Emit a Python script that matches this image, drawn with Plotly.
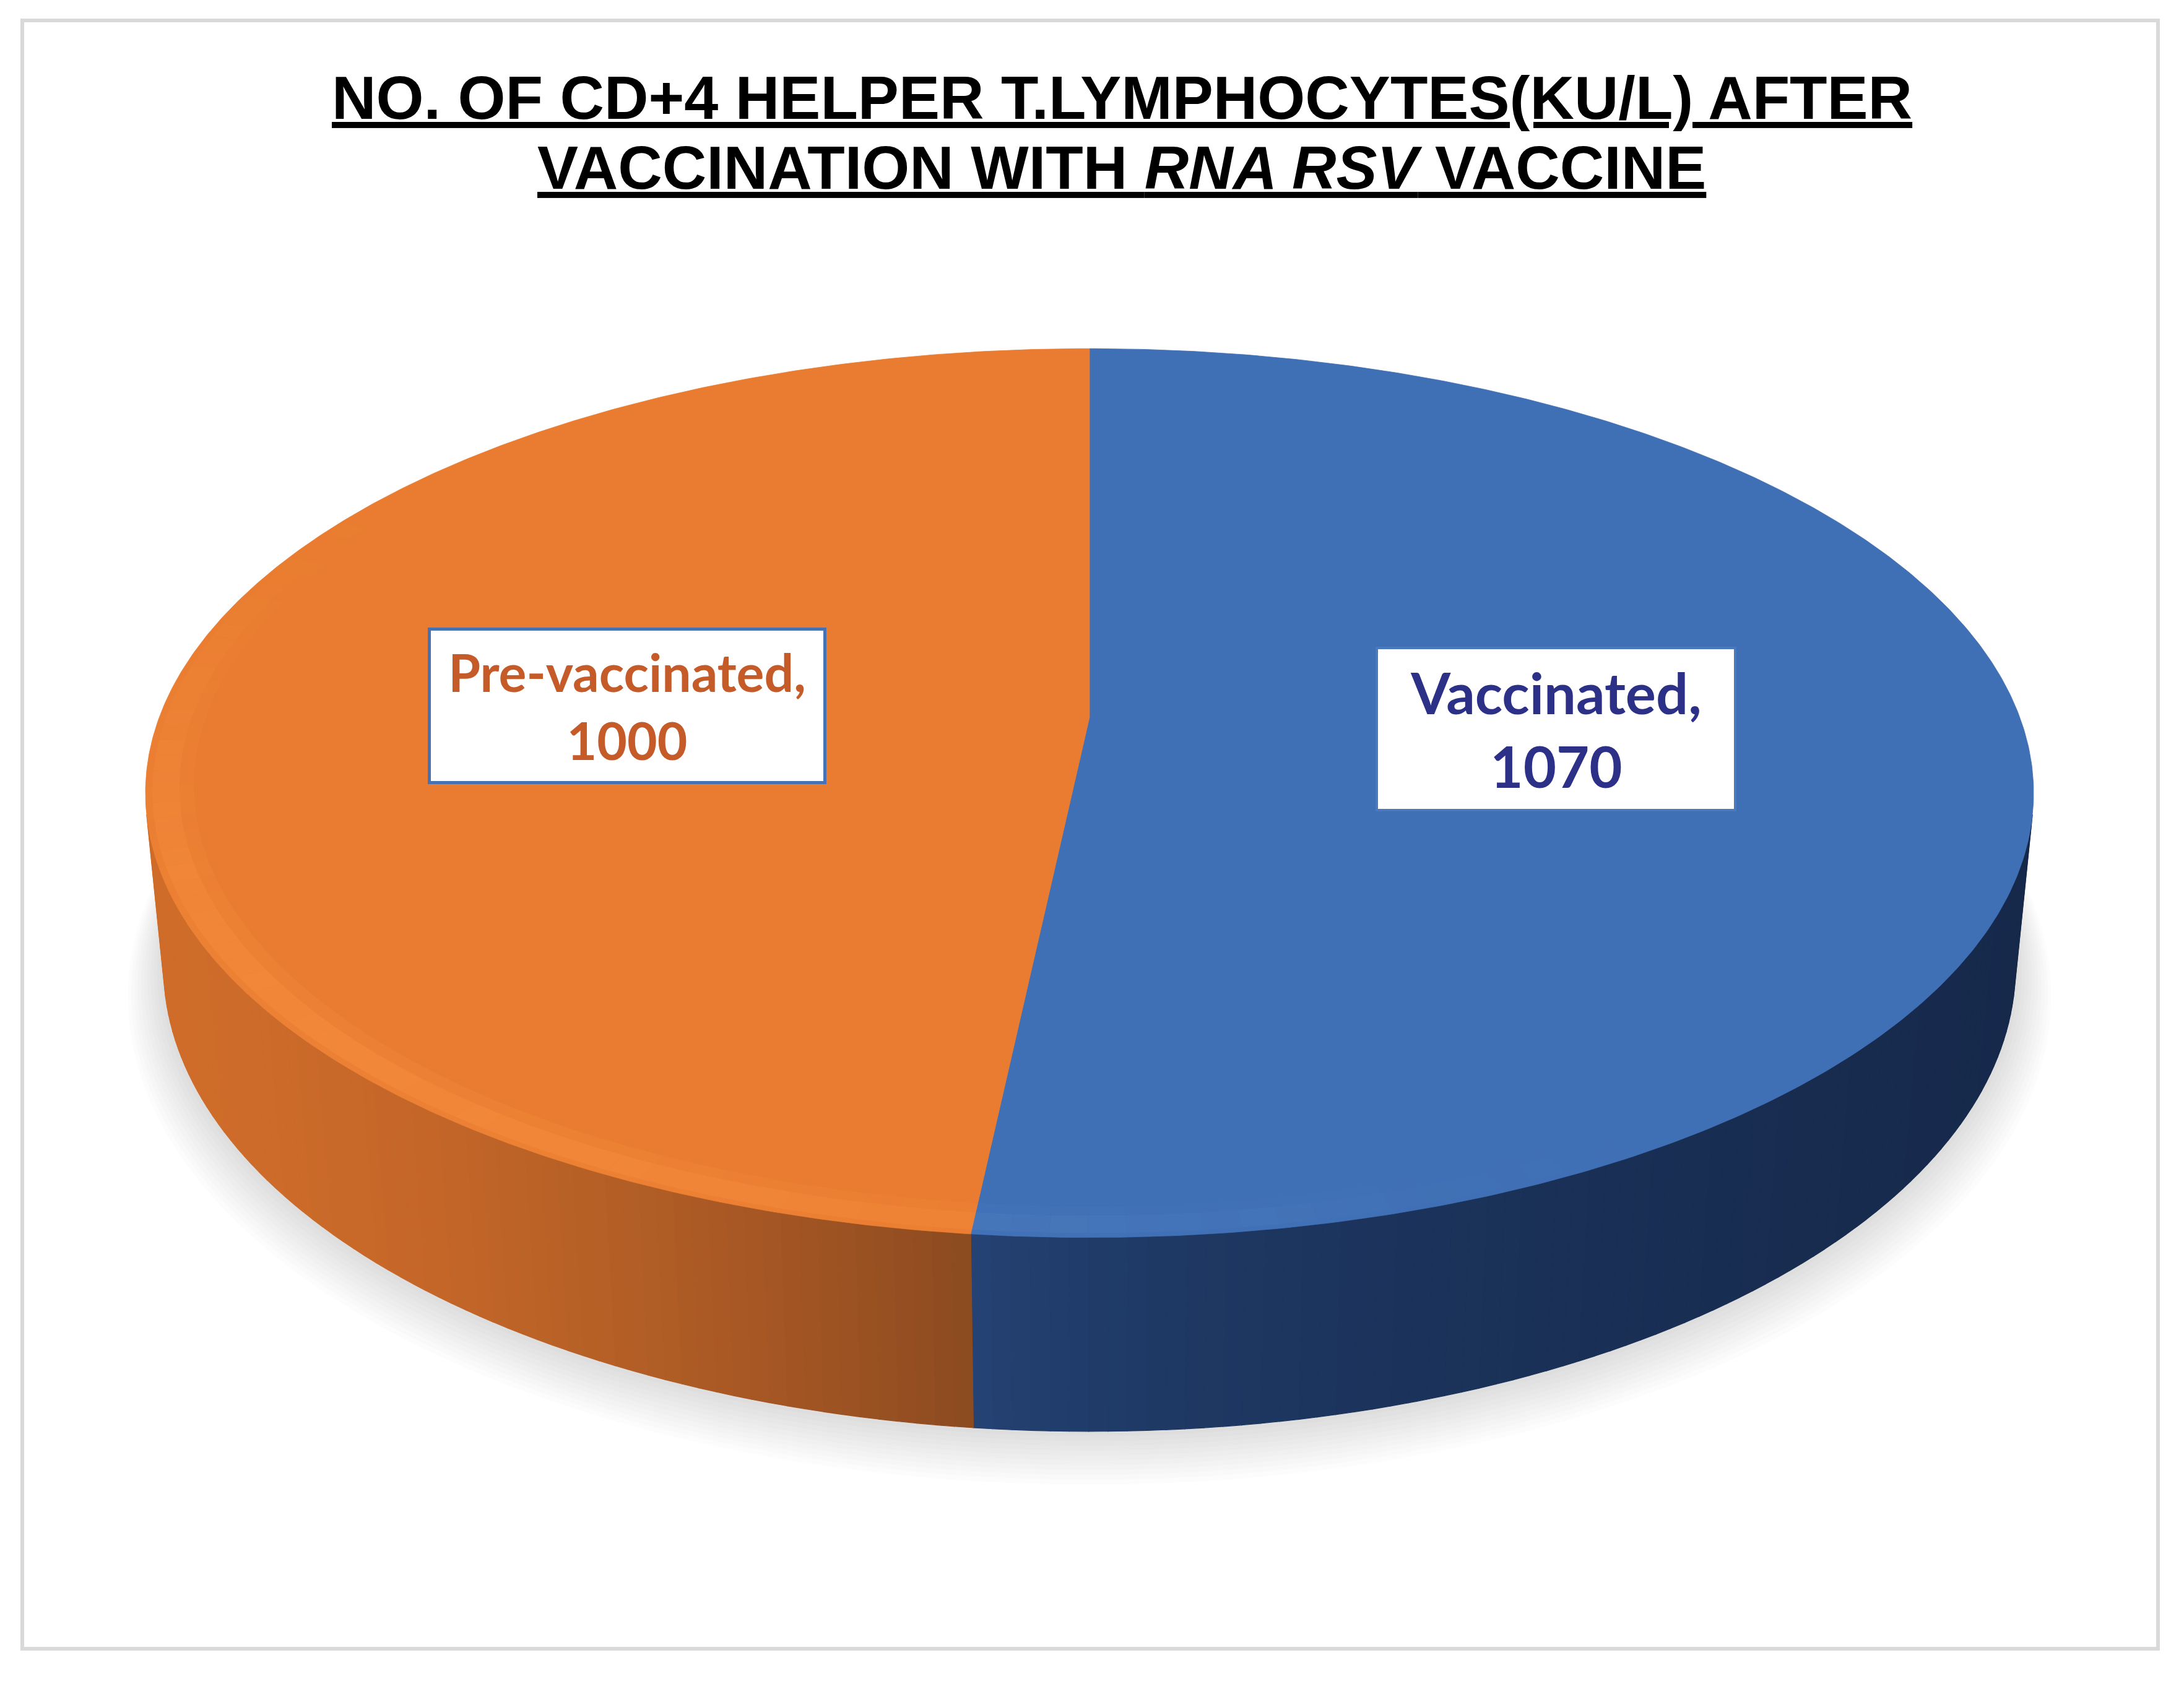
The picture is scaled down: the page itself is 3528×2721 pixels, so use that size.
import numpy as np
import plotly.graph_objects as go

# ---- data ----
categories = ["Vaccinated", "Pre-vaccinated"]
values = [1070, 1000]
top_colors = ["#3F6FB5", "#E97C30"]
side_light = [(37, 69, 120), (207, 108, 42)]
side_dark = [(22, 41, 75), (140, 74, 32)]
side_curve = [0.5, 1.6]
rim_tint = [(105, 150, 212), (255, 152, 72)]
rim_strength = [0.4, 0.55]
label_colors = ["#2C3087", "#C55B28"]
label_border = ["#4A79BD", "#4672B4"]
label_sizes = [92, 84]
label_box = [(583, 266), (644, 253)]
title_lines = [
    "<b><u>NO. OF CD+4 HELPER T.LYMPHOCYTES(KU/L) AFTER</u></b>",
    "<b><u>VACCINATION WITH <i>RNA RSV</i> VACCINE</u></b>",
]

W, H = 3528, 2721

# ---- perspective camera for the tilted disc ----
CX, CY = 1760.0, 1159.0
FOCAL = 7808.0
DIST = 5.196
TILT = np.arcsin(0.464)
THICK = 0.2116
S, C = np.sin(TILT), np.cos(TILT)


def project(x, y, z):
    x = np.asarray(x, float)
    y = np.asarray(y, float)
    z = np.asarray(z, float)
    yc = y * S + z * C
    zc = DIST + y * C - z * S
    return CX + FOCAL * x / zc, CY - FOCAL * yc / zc


def ring(t, r, z):
    return project(r * np.sin(t), r * np.cos(t), np.full_like(t, z))


def rgb(c):
    return "rgb(%d,%d,%d)" % tuple(int(round(v)) for v in c)


def poly(fig, xs, ys, fill, line=None, lw=0):
    fig.add_trace(go.Scatter(
        x=xs, y=ys, mode="lines", fill="toself", fillcolor=fill,
        line=dict(color=line or fill, width=lw), hoverinfo="skip",
        showlegend=False))


fig = go.Figure()

total = float(sum(values))
edges = np.concatenate([[0.0], np.cumsum(values) / total]) * 2 * np.pi

# soft ground shadow below the disc
n_sh = 12
for k in range(n_sh):
    f = k / (n_sh - 1)
    t = np.linspace(0, 2 * np.pi, 361)
    sx, sy = ring(t, 1.0 + 0.04 * f, -THICK - 0.03 * f)
    poly(fig, sx, sy, "rgba(110,115,120,0.022)")

# outer wall: only the part turned toward the camera
lim = np.arccos(-1.0 / (DIST * C))
vis_lo, vis_hi = lim, 2 * np.pi - lim
for i in range(len(values)):
    a, b = max(edges[i], vis_lo), min(edges[i + 1], vis_hi)
    if b <= a:
        continue
    n = max(int(np.degrees(b - a)), 2)
    tt = np.linspace(a, b, n + 1)
    us, _ = ring(tt, 1.0, 0.0)
    umin, umax = us.min(), us.max()
    for j in range(n):
        seg = np.linspace(tt[j], tt[j + 1], 4)
        tx, ty = ring(seg, 1.0, 0.0)
        bx, by = ring(seg[::-1], 1.0, -THICK)
        um = 0.5 * (us[j] + us[j + 1])
        f = ((um - umin) / (umax - umin)) ** side_curve[i]
        col = [side_light[i][k] + (side_dark[i][k] - side_light[i][k]) * f for k in range(3)]
        poly(fig, np.r_[tx, bx, tx[0]], np.r_[ty, by, ty[0]], rgb(col), lw=1.2)

# top faces of the slices
for i in range(len(values)):
    tt = np.linspace(edges[i], edges[i + 1], 400)
    ax, ay = ring(tt, 1.0, 0.0)
    cx, cy = project(0.0, 0.0, 0.0)
    poly(fig, np.r_[cx, ax, cx], np.r_[cy, ay, cy], top_colors[i], lw=0.8)

# bevel highlight along the front rim
for i in range(len(values)):
    n = max(int(np.degrees(edges[i + 1] - edges[i]) / 2), 2)
    tt = np.linspace(edges[i], edges[i + 1], n + 1)
    for j in range(n):
        tm = 0.5 * (tt[j] + tt[j + 1])
        a = rim_strength[i] * max(0.0, np.cos(tm - np.radians(225))) ** 2
        if a < 0.02:
            continue
        seg = np.linspace(tt[j], tt[j + 1], 4)
        for r0, r1, w in ((0.95, 1.0, 0.3), (0.965, 0.993, 0.5)):
            ox, oy = ring(seg, r1, 0.0)
            ix, iy = ring(seg[::-1], r0, 0.0)
            c = "rgba(%d,%d,%d,%.3f)" % (*rim_tint[i], a * w)
            fig.add_trace(go.Scatter(
                x=np.r_[ox, ix, ox[0]], y=np.r_[oy, iy, oy[0]], mode="lines",
                fill="toself", fillcolor=c, line=dict(width=0),
                hoverinfo="skip", showlegend=False))

# data labels at half radius on the mid-angle of each slice
annotations = []
for i, (cat, val) in enumerate(zip(categories, values)):
    tm = 0.5 * (edges[i] + edges[i + 1])
    lx, ly = project(0.5 * np.sin(tm), 0.5 * np.cos(tm), 0.0)
    bw = 5 if i == 1 else 4
    bxw, bxh = label_box[i]
    annotations.append(dict(
        x=float(lx), y=float(ly), xref="x", yref="y", showarrow=False,
        text="<b>%s,<br>%d</b>" % (cat, val),
        font=dict(family="Lato", size=label_sizes[i], color=label_colors[i]),
        bgcolor="white", bordercolor=label_border[i], borderwidth=bw,
        borderpad=0, width=bxw - 2 * bw, height=bxh - 2 * bw,
        align="center", valign="middle", xanchor="center", yanchor="middle"))

# two-line underlined title
for txt, ty in zip(title_lines, (157, 270)):
    annotations.append(dict(
        x=1812, y=ty, xref="x", yref="y", showarrow=False, text=txt,
        font=dict(family="Liberation Sans, Arial", size=99, color="#000000"),
        xanchor="center", yanchor="middle"))

fig.update_layout(
    width=W, height=H, margin=dict(l=0, r=0, t=0, b=0),
    paper_bgcolor="white", plot_bgcolor="white", showlegend=False,
    xaxis=dict(range=[0, W], visible=False, fixedrange=True),
    yaxis=dict(range=[H, 0], visible=False, fixedrange=True),
    annotations=annotations,
    shapes=[dict(type="rect", xref="x", yref="y", x0=36, y0=33, x1=3486, y1=2664,
                 line=dict(color="#D9D9DA", width=6), fillcolor="rgba(0,0,0,0)",
                 layer="below")],
)

fig.write_html("out.html")
